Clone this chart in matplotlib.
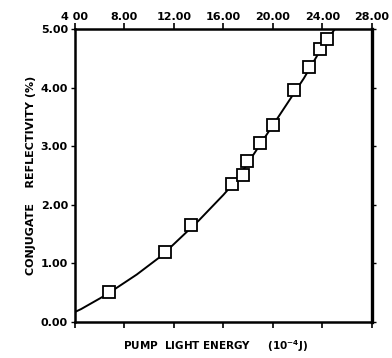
import numpy as np
import matplotlib
matplotlib.use("Agg")
import matplotlib.pyplot as plt

# measured points (pump energy in 1e-4 J, reflectivity in %)
energy = [6.75, 11.3, 13.4, 16.7, 17.6, 17.9, 18.95, 20.0, 21.7, 22.9, 23.8, 24.4]
refl = [0.51, 1.19, 1.65, 2.36, 2.50, 2.74, 3.06, 3.37, 3.96, 4.35, 4.66, 4.83]

# hand-drawn fit curve
curve_x = [4.0, 4.5, 5.0, 5.5, 6.0, 6.5, 7.0, 7.5, 8.0, 8.5, 9.0, 9.5, 10.0, 10.5,
           11.0, 11.5, 12.0, 12.5, 13.0, 13.5, 14.0, 14.5, 15.0, 15.5, 16.0, 16.5,
           17.0, 17.5, 18.0, 18.5, 19.0, 19.5, 20.0, 20.5, 21.0, 21.5, 22.0, 22.5,
           23.0, 23.5, 24.0, 24.5, 25.0]
curve_y = [0.17, 0.22, 0.28, 0.34, 0.40, 0.46, 0.53, 0.60, 0.67, 0.74, 0.81, 0.89,
           0.97, 1.05, 1.13, 1.23, 1.33, 1.43, 1.53, 1.63, 1.73, 1.84, 1.95, 2.06,
           2.17, 2.29, 2.41, 2.56, 2.72, 2.88, 3.04, 3.20, 3.36, 3.52, 3.68, 3.84,
           4.00, 4.16, 4.34, 4.52, 4.70, 4.85, 5.00]

xticks = [4, 8, 12, 16, 20, 24, 28]
xlabels = ["4 00", "8.00", "12.00", "16.00", "20.00", "24.00", "28.00"]
yticks = [0, 1, 2, 3, 4, 5]
ylabels = ["0.00", "1.00", "2.00", "3.00", "4.00", "5.00"]

plt.rcParams["font.family"] = "DejaVu Sans"
plt.rcParams["font.weight"] = "bold"

fig = plt.figure(figsize=(3.92, 3.58), dpi=100)
ax = fig.add_axes([0.191, 0.1006, 0.758, 0.8184])

ax.plot(curve_x, curve_y, color="black", lw=1.4)
ax.plot(energy, refl, ls="none", marker="s", ms=8.5, mfc="white", mec="black", mew=1.3)

ax.set_xlim(4, 28)
ax.set_ylim(0, 5)

for s in ax.spines.values():
    s.set_linewidth(1.8)
ax.spines["right"].set_linewidth(2.4)

ax.set_xticks(xticks)
ax.set_xticklabels(xlabels, fontsize=8, fontweight="bold")
ax.tick_params(axis="x", which="both", top=True, bottom=True, labeltop=True,
               labelbottom=False, direction="out", length=4, width=1.2, pad=1)
ax.set_yticks(yticks)
ax.set_yticklabels(ylabels, fontsize=8, fontweight="bold")
ax.tick_params(axis="y", left=True, right=True, direction="out", length=3,
               width=1.0, pad=2)

ax.set_ylabel("CONJUGATE    REFLECTIVITY (%)", fontsize=8, fontweight="bold", labelpad=3)
fig.text(0.55, 0.022, "PUMP  LIGHT ENERGY     (10$^{-4}$J)", ha="center",
         fontsize=7.5, fontweight="bold")

fig.savefig("out.png", dpi=100)
